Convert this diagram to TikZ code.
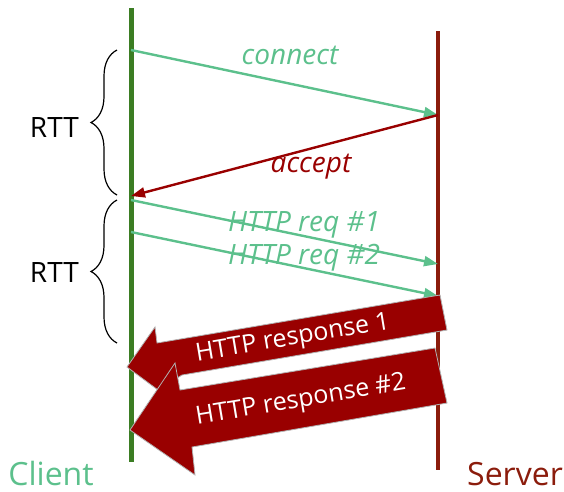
\documentclass[tikz,border=0pt]{standalone}
\usepackage{fontspec}
\setmainfont{Open Sans}
\usetikzlibrary{arrows.meta,decorations.pathreplacing}
\definecolor{cgreen}{HTML}{3B7D23}
\definecolor{sred}{HTML}{8B1C0C}
\definecolor{lgreen}{HTML}{5CC08C}
\definecolor{dred}{HTML}{990000}
\tikzset{
  msg/.style={line width=2.4pt,-{Triangle[length=14pt,width=10pt]}},
  reqmsg/.style={msg,lgreen},
  accmsg/.style={msg,dred},
  lbl/.style={inner sep=0pt,font=\fontsize{28}{28}\selectfont\itshape},
  rtt/.style={inner sep=0pt,font=\fontsize{28}{28}\selectfont,anchor=east},
  brc/.style={decorate,decoration={brace,amplitude=26pt},line width=1.2pt},
  bigarrow/.style={fill=dred,draw=black!30,line width=0.8pt},
  resp/.style={inner sep=0pt,text=white,font=\fontsize{25}{25}\selectfont,rotate=9.5},
  endlbl/.style={inner sep=0pt,text depth=0pt,anchor=base,font=\fontsize{32}{32}\selectfont}
}
\begin{document}
\begin{tikzpicture}[x=1pt,y=-1pt]
\useasboundingbox (0,0) rectangle (564,491);
% lifelines
\coordinate (c0) at (131,8);
\coordinate (c1) at (131,462);
\coordinate (s0) at (438,31);
\coordinate (s1) at (438,470);
\draw[cgreen,line width=5pt] (c0) -- (c1);
\draw[sred,line width=4pt] (s0) -- (s1);
% messages
\coordinate (a0) at (131,50);
\coordinate (a1) at (438,115);
\coordinate (b1) at (131,196);
\coordinate (r1a) at (131,200);
\coordinate (r1b) at (438,264);
\coordinate (r2a) at (131,232);
\coordinate (r2b) at (438,296);
\draw[reqmsg] (a0) -- (a1);
\draw[accmsg] (a1) -- (b1);
\draw[reqmsg] (r1a) -- (r1b);
\draw[reqmsg] (r2a) -- (r2b);
\node[lbl,text=lgreen] (lconn) at (290,55) {connect};
\node[lbl,text=dred] (lacc) at (311,167) {accept};
\node[lbl,text=lgreen] (lreq1) at (304,225) {HTTP req \#1};
\node[lbl,text=lgreen] (lreq2) at (304,258) {HTTP req \#2};
% braces
\coordinate (br1a) at (117,195);
\coordinate (br1b) at (117,50);
\coordinate (br2a) at (117,343);
\coordinate (br2b) at (117,200);
\draw[brc] (br1a) -- (br1b);
\draw[brc] (br2a) -- (br2b);
\node[rtt] (rtt1) at (79,127) {RTT};
\node[rtt] (rtt2) at (79,272) {RTT};
% response block arrows
\draw[bigarrow] (440,295) -- (447,330) -- (182,375) -- (158,390) -- (127,367) -- (155,327) -- (157,343) -- cycle;
\draw[bigarrow] (435,348) -- (447,403) -- (192,447) -- (195,475) -- (130,430) -- (175,363) -- (180,390) -- cycle;
\node[resp] (resp1) at (293,339) {HTTP response 1};
\node[resp] (resp2) at (301,401) {HTTP response \#2};
% end labels
\node[endlbl,text=lgreen] (client) at (51,485) {Client};
\node[endlbl,text=sred] (server) at (515,485) {Server};
\end{tikzpicture}
\end{document}
